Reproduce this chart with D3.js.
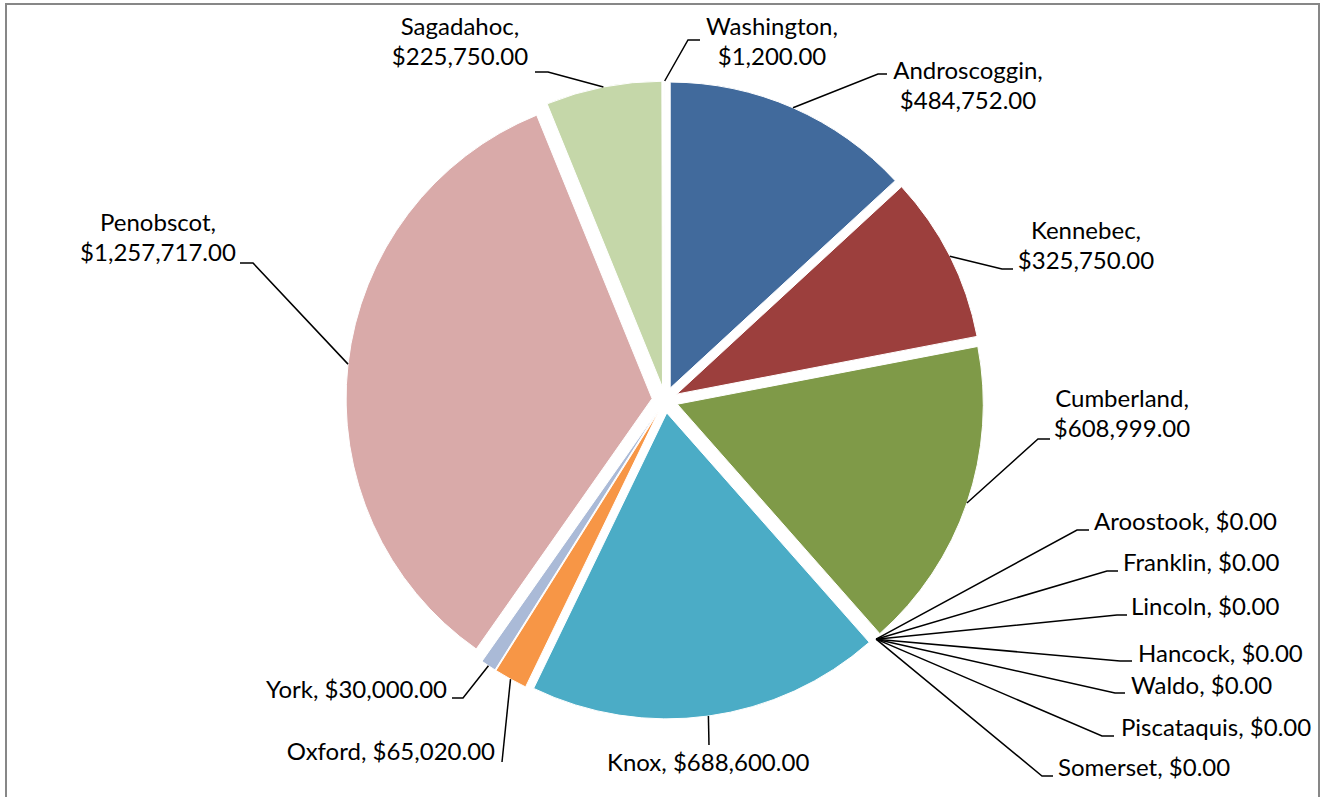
<!DOCTYPE html>
<meta charset="utf-8">
<style>
    body { margin: 0; background: #fff; }
    .frame { fill: #fff; stroke: #878787; stroke-width: 2px; }
    .slice { stroke: #fff; stroke-width: 1px; }
    .leader { fill: none; stroke: #000; stroke-width: 1.5px; }
    .label text { font: 24px Lato, "Open Sans", sans-serif; fill: #000; }
</style>
<svg></svg>
<script src="https://cdn.jsdelivr.net/npm/d3@7"></script>
<script>

    var width = 1323,
        height = 797;

    // data, clockwise from 12 o'clock
    var counties = ["Androscoggin", "Kennebec", "Cumberland", "Aroostook", "Franklin", "Lincoln",
        "Hancock", "Waldo", "Piscataquis", "Somerset", "Knox", "Oxford", "York", "Penobscot",
        "Sagadahoc", "Washington"];
    var amounts = [484752, 325750, 608999, 0, 0, 0, 0, 0, 0, 0, 688600, 65020, 30000, 1257717,
        225750, 1200];
    var colors = ["#416a9c", "#9c3f3d", "#7f9a48", "#7c5f9a", "#3f98b0", "#e4843a", "#6f8fc6",
        "#c96e6c", "#aac47c", "#9e8bbd", "#4bacc6", "#f79646", "#aabad7", "#d9aaa9",
        "#c5d7a9", "#c8c0de"];

    // label placement (text anchor x, first line centre y, two-line?, elbow, end of leader)
    var labelLayout = [
        {x: 968, y: 71, two: true, anchor: "middle", elbow: [878, 74], end: [887, 74]},
        {x: 1086, y: 231, two: true, anchor: "middle", elbow: [1002, 269], end: [1013, 269]},
        {x: 1122, y: 399, two: true, anchor: "middle", elbow: [1038, 439], end: [1050, 439]},
        {x: 1094, y: 522, anchor: "start", elbow: [1077, 530], end: [1089, 530]},
        {x: 1123, y: 563, anchor: "start", elbow: [1107, 571], end: [1118, 571]},
        {x: 1131, y: 607, anchor: "start", elbow: [1117, 615], end: [1127, 615]},
        {x: 1138, y: 654, anchor: "start", elbow: [1120, 661], end: [1132, 661]},
        {x: 1131, y: 686, anchor: "start", elbow: [1115, 693], end: [1125, 693]},
        {x: 1121, y: 728, anchor: "start", elbow: [1102, 736], end: [1114, 736]},
        {x: 1058, y: 768, anchor: "start", elbow: [1042, 776], end: [1053, 776]},
        {x: 607, y: 763, anchor: "start", elbow: [709, 745], end: [709, 745]},
        {x: 495, y: 752, anchor: "end", elbow: [502, 762], end: [502, 762]},
        {x: 447, y: 690, anchor: "end", elbow: [463, 698], end: [452, 698]},
        {x: 158, y: 223, two: true, anchor: "middle", elbow: [253, 263], end: [240, 263]},
        {x: 460, y: 27, two: true, anchor: "middle", elbow: [548, 72], end: [535, 72]},
        {x: 772, y: 27, two: true, anchor: "middle", elbow: [688, 40], end: [700, 40]}
    ];

    var cx = 665, cy = 400, radius = 306, explode = 13;
    var fmt = d3.format("$,.2f");

    var svg = d3.select("svg")
        .attr("width", width)
        .attr("height", height);

    svg.append("rect")
        .attr("class", "frame")
        .attr("x", 6).attr("y", 4)
        .attr("width", 1313).attr("height", 810);

    var pie = d3.pie().sort(null).value(function(d) { return d; });
    var arcs = pie(amounts);

    var arc = d3.arc().innerRadius(0).outerRadius(radius);

    var g = svg.append("g").attr("transform", "translate(" + cx + "," + cy + ")");

    function offset(d) {
        var a = (d.startAngle + d.endAngle) / 2;
        return [explode * Math.sin(a), -explode * Math.cos(a)];
    }

    g.selectAll(".slice")
        .data(arcs)
        .enter().append("path")
        .attr("class", "slice")
        .attr("fill", function(d, i) { return colors[i]; })
        .attr("transform", function(d) { return "translate(" + offset(d) + ")"; })
        .attr("d", arc);

    // leader lines start at the outer edge of each slice, on its bisector
    g.selectAll(".leader")
        .data(arcs)
        .enter().append("polyline")
        .attr("class", "leader")
        .attr("points", function(d, i) {
            var a = (d.startAngle + d.endAngle) / 2,
                o = offset(d),
                p = [o[0] + radius * Math.sin(a), o[1] - radius * Math.cos(a)],
                L = labelLayout[i];
            return [p, [L.elbow[0] - cx, L.elbow[1] - cy], [L.end[0] - cx, L.end[1] - cy]]
                .map(function(q) { return q.join(","); }).join(" ");
        });

    var labels = svg.selectAll(".label")
        .data(arcs)
        .enter().append("g")
        .attr("class", "label");

    labels.each(function(d, i) {
        var L = labelLayout[i],
            sel = d3.select(this),
            lines = L.two ? [counties[i] + ",", fmt(amounts[i])] : [counties[i] + ", " + fmt(amounts[i])];
        lines.forEach(function(t, k) {
            sel.append("text")
                .attr("x", L.x)
                .attr("y", L.y + k * 30)
                .attr("dy", "0.35em")
                .attr("text-anchor", L.anchor)
                .text(t);
        });
    });

</script>
